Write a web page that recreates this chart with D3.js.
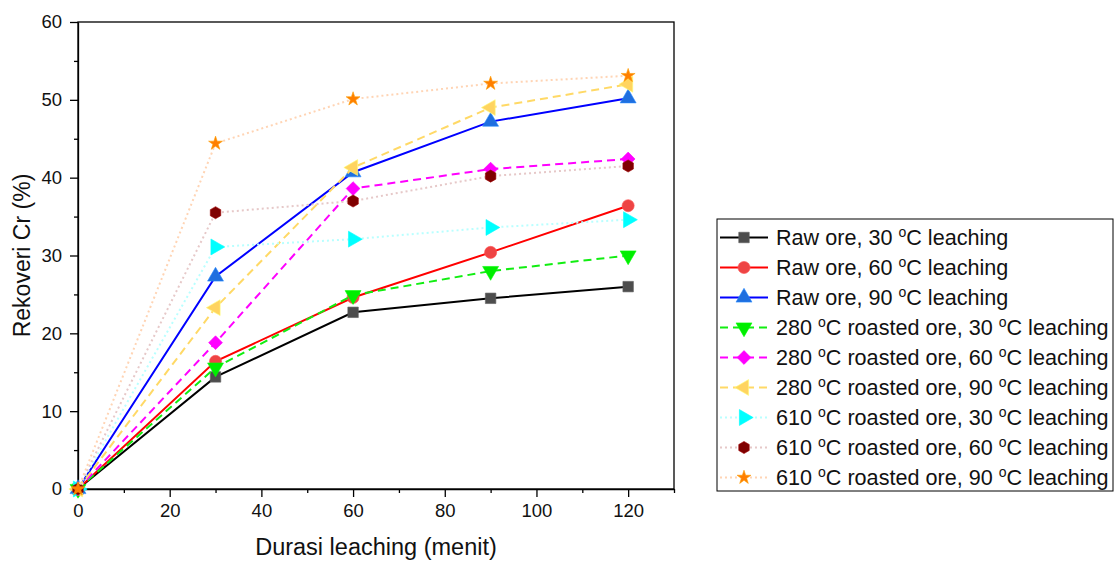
<!DOCTYPE html>
<html>
<head>
<meta charset="utf-8">
<script src="https://cdn.jsdelivr.net/npm/d3@7"></script>
<style>
  body { margin: 0; background: #fff; }
  text { font-family: "Liberation Sans", Arial, sans-serif; fill: #111; }
</style>
</head>
<body>
<svg id="chart" width="1116" height="561"></svg>
<script>
// data
const times = [0, 30, 60, 90, 120];
const labels = [
  "Raw ore, 30 °C leaching",
  "Raw ore, 60 °C leaching",
  "Raw ore, 90 °C leaching",
  "280 °C roasted ore, 30 °C leaching",
  "280 °C roasted ore, 60 °C leaching",
  "280 °C roasted ore, 90 °C leaching",
  "610 °C roasted ore, 30 °C leaching",
  "610 °C roasted ore, 60 °C leaching",
  "610 °C roasted ore, 90 °C leaching"
];
const raw30 = [0, 14.4, 22.7, 24.5, 26.0];
const raw60 = [0, 16.4, 24.6, 30.4, 36.4];
const raw90 = [0, 27.3, 40.7, 47.2, 50.2];
const r280_30 = [0, 15.6, 24.9, 28.0, 30.0];
const r280_60 = [0, 18.8, 38.6, 41.1, 42.4];
const r280_90 = [0, 23.3, 41.3, 49.0, 52.0];
const r610_30 = [0, 31.1, 32.1, 33.6, 34.6];
const r610_60 = [0, 35.5, 37.0, 40.2, 41.5];
const r610_90 = [0, 44.4, 50.1, 52.1, 53.1];
const xTicks = [0, 20, 40, 60, 80, 100, 120];
const yTicks = [0, 10, 20, 30, 40, 50, 60];

const hexagon = {
  draw(ctx, size) {
    const r = Math.sqrt(size / (1.5 * Math.sqrt(3)));
    for (let i = 0; i < 6; i++) {
      const a = Math.PI / 6 + i * Math.PI / 3;
      const px = r * Math.cos(a), py = r * Math.sin(a);
      if (i === 0) ctx.moveTo(px, py); else ctx.lineTo(px, py);
    }
    ctx.closePath();
  }
};

const series = [
  {v: raw30,   line: "#000000", dash: null,  fill: "#4d4d4d", sym: d3.symbolSquare,   rot: 0,   size: 110},
  {v: raw60,   line: "#ff0000", dash: null,  fill: "#ee4444", sym: d3.symbolCircle,   rot: 0,   size: 115},
  {v: raw90,   line: "#0000ff", dash: null,  fill: "#1f6fdf", sym: d3.symbolTriangle, rot: 0,   size: 110},
  {v: r280_30, line: "#11ee11", dash: "8,5", fill: "#00ee00", sym: d3.symbolTriangle, rot: 180, size: 110},
  {v: r280_60, line: "#ff00ff", dash: "8,5", fill: "#ff00ff", sym: d3.symbolSquare,   rot: 45,  size: 95},
  {v: r280_90, line: "#ffd966", dash: "8,5", fill: "#ffd460", sym: d3.symbolTriangle, rot: -90, size: 110},
  {v: r610_30, line: "#b8ffff", dash: "2,3", fill: "#00ffff", sym: d3.symbolTriangle, rot: 90,  size: 110},
  {v: r610_60, line: "#e6c8c8", dash: "2,3", fill: "#7f0000", sym: hexagon,          rot: 0,   size: 95},
  {v: r610_90, line: "#ffd4b4", dash: "2,3", fill: "#ff7f00", sym: d3.symbolStar,     rot: 0,   size: 60}
];

const svg = d3.select("#chart");
const mLeft = 78, mRight = 674, mTop = 22, mBottom = 489;

const x = d3.scaleLinear().domain([0, 130]).range([mLeft, mRight]);
const y = d3.scaleLinear().domain([0, 60]).range([mBottom, mTop]);

// frame
svg.append("rect")
  .attr("x", mLeft).attr("y", mTop)
  .attr("width", mRight - mLeft).attr("height", mBottom - mTop)
  .attr("fill", "none").attr("stroke", "#000").attr("stroke-width", 1.3);

// axes
const xAxis = svg.append("g").attr("transform", `translate(0, ${mBottom})`)
  .call(d3.axisBottom(x).tickValues(xTicks).tickSize(8).tickSizeOuter(0));
svg.append("g").attr("transform", `translate(0, ${mBottom})`)
  .call(d3.axisBottom(x).tickValues(d3.range(10, 131, 20)).tickSize(4).tickFormat("").tickSizeOuter(0))
  .select(".domain").remove();
const yAxis = svg.append("g").attr("transform", `translate(${mLeft}, 0)`)
  .call(d3.axisLeft(y).tickValues(yTicks).tickSize(8).tickSizeOuter(0));
svg.append("g").attr("transform", `translate(${mLeft}, 0)`)
  .call(d3.axisLeft(y).tickValues(d3.range(5, 60, 10)).tickSize(4).tickFormat("").tickSizeOuter(0))
  .select(".domain").remove();

svg.selectAll(".tick line").attr("stroke", "#000").attr("stroke-width", 1.3);
svg.selectAll(".domain").attr("stroke", "#000").attr("stroke-width", 1.3);
xAxis.selectAll("text").attr("font-size", 18.5).attr("y", 28).attr("dy", 0).attr("fill", "#111");
yAxis.selectAll("text").attr("font-size", 18.5).attr("x", -16).attr("fill", "#111");

// axis titles
svg.append("text")
  .attr("transform", `translate(30, ${(mTop + mBottom) / 2}) rotate(-90)`)
  .attr("text-anchor", "middle").attr("font-size", 23)
  .text("Rekoveri Cr (%)");
svg.append("text")
  .attr("x", (mLeft + mRight) / 2).attr("y", 555)
  .attr("text-anchor", "middle").attr("font-size", 23.5)
  .text("Durasi leaching (menit)");

// series
const line = d3.line().x((d, i) => x(times[i])).y(d => y(d));
const plot = svg.append("g");
series.forEach(s => {
  plot.append("path")
    .attr("d", line(s.v))
    .attr("fill", "none")
    .attr("stroke", s.line)
    .attr("stroke-width", 2)
    .attr("stroke-dasharray", s.dash);
  plot.selectAll(null)
    .data(s.v)
    .join("path")
    .attr("d", d3.symbol(s.sym, s.size))
    .attr("transform", (d, i) => `translate(${x(times[i])}, ${y(d)}) rotate(${s.rot})`)
    .attr("fill", s.fill)
    .attr("stroke", d3.color(s.fill).brighter(0.6))
    .attr("stroke-width", 0.6);
});

// legend
const lg = svg.append("g");
lg.append("rect")
  .attr("x", 717).attr("y", 219).attr("width", 396).attr("height", 272)
  .attr("fill", "#fff").attr("stroke", "#000").attr("stroke-width", 1);
series.forEach((s, i) => {
  const cy = 237.5 + i * 30;
  lg.append("line")
    .attr("x1", 720).attr("x2", 768).attr("y1", cy).attr("y2", cy)
    .attr("stroke", s.line).attr("stroke-width", 2)
    .attr("stroke-dasharray", s.dash);
  lg.append("path")
    .attr("d", d3.symbol(s.sym, s.size))
    .attr("transform", `translate(744, ${cy}) rotate(${s.rot})`)
    .attr("fill", s.fill)
    .attr("stroke", d3.color(s.fill).brighter(0.6))
    .attr("stroke-width", 0.6);
  const t = lg.append("text")
    .attr("x", 776).attr("y", cy + 7.5).attr("font-size", 21.6);
  const parts = labels[i].split("°");
  parts.forEach((p, j) => {
    if (j > 0) {
      t.append("tspan").attr("dy", -8).attr("font-size", 14).text("o");
      t.append("tspan").attr("dy", 8).text(p);
    } else {
      t.append("tspan").text(p);
    }
  });
});
</script>
</body>
</html>
